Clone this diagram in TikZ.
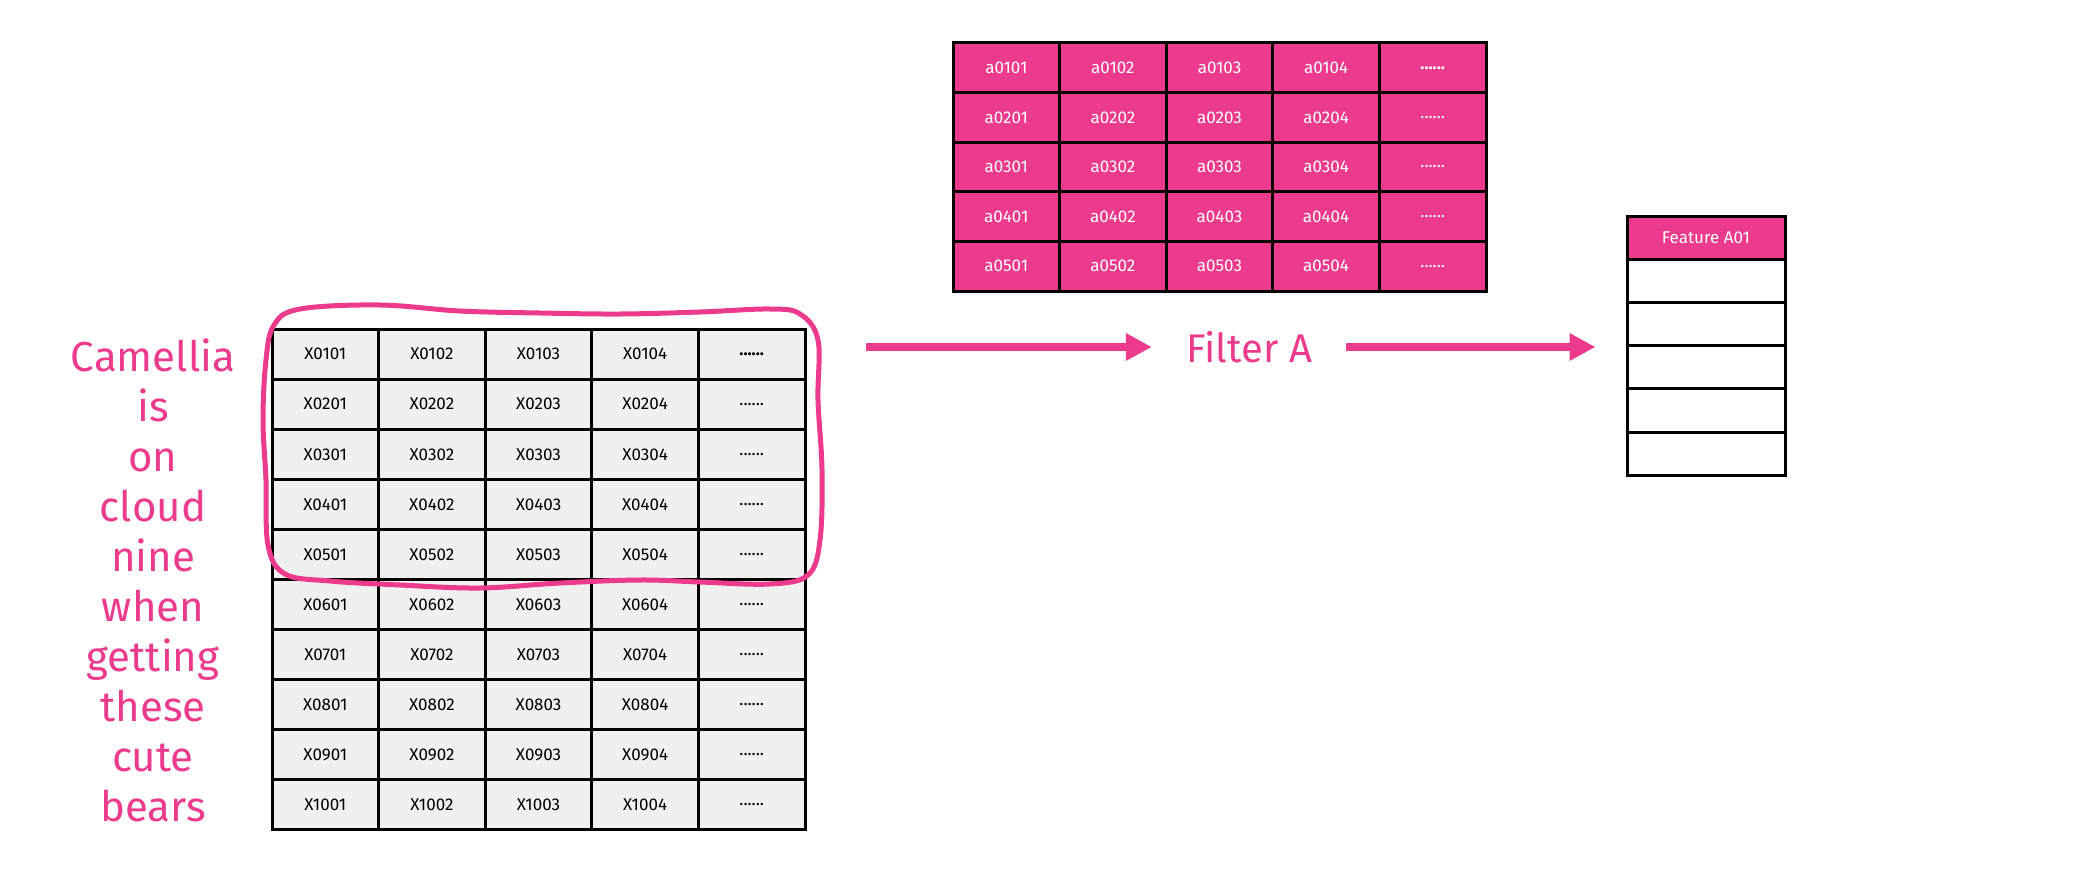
\documentclass[tikz,border=0pt]{standalone}
\usepackage{fontspec}
\setmainfont{Fira Sans}
\usetikzlibrary{arrows.meta,positioning}
\definecolor{hlpink}{HTML}{EC3A8C}
\definecolor{cellgray}{HTML}{F0F0F0}

\begin{document}
\begin{tikzpicture}[x=1pt,y=-1pt,
 grid/.style={draw=black,line width=3pt,minimum width=106.6pt,minimum height=50pt,
   inner sep=0pt,font=\fontsize{17}{17}\selectfont},
 xcell/.style={grid,fill=cellgray},
 acell/.style={grid,fill=hlpink,text=white},
 fcell/.style={draw=black,line width=3pt,minimum width=158pt,minimum height=43.2pt,
   inner sep=0pt,fill=white},
 fhead/.style={fcell,fill=hlpink,text=white,font=\fontsize{17}{17}\selectfont},
 flow/.style={-{Triangle[length=26pt,width=26pt]},line width=8pt,draw=hlpink},
 note/.style={text=hlpink,align=center}]
\useasboundingbox (0,0) rectangle (2100,880);
% input table
\foreach \r in {1,...,10}
 \foreach \c in {1,...,5}
  \node[xcell] (x-\r-\c) at ({272+106.6*(\c-0.5)},{329+50.1*(\r-0.5)})
   {\ifnum\c=5 \ifnum\r=1 \bfseries\fi......\else X\ifnum\r<10 0\fi\r0\c\fi};
% filter table
\foreach \r in {1,...,5}
 \foreach \c in {1,...,5}
  \node[acell] (a-\r-\c) at ({953+106.6*(\c-0.5)},{43+49.6*(\r-0.5)})
   {\ifnum\c=5 \ifnum\r=1 \bfseries\fi......\else a0\r0\c\fi};
% feature map
\node[fhead] (f-0) at (1706,{216+43.2*0.5}) {Feature A01};
\foreach \k in {1,...,5}
  \node[fcell] (f-\k) at (1706,{216+43.2*(\k+0.5)}) {};
% highlight and caption
\draw[hlpink,line width=5pt] plot[smooth cycle,tension=0.6] coordinates {
 (300,309) (380,305) (460,311) (540,313) (620,314) (700,312) (770,309) (800,314)
 (818,340) (818,400) (822,470) (820,540) (808,575) (770,584) (700,582) (640,580)
 (560,583) (480,588) (400,585) (330,581) (285,574) (268,545) (266,480) (263,420)
 (266,360) (274,325)};
\node[note,font=\fontsize{42}{50}\selectfont] (caption) at (153,580)
 {Camellia\\is\\on\\cloud\\nine\\when\\getting\\these\\cute\\bears};
% arrows
\coordinate (src) at (866,347);
\node[note,font=\fontsize{40}{40}\selectfont,minimum width=194pt,inner sep=0pt] (filter) at (1249,347) {Filter A};
\draw[flow] (src) -- (filter);
\draw[flow,shorten >=30pt] (filter) -- (filter -| f-0.west);
\end{tikzpicture}
\end{document}
